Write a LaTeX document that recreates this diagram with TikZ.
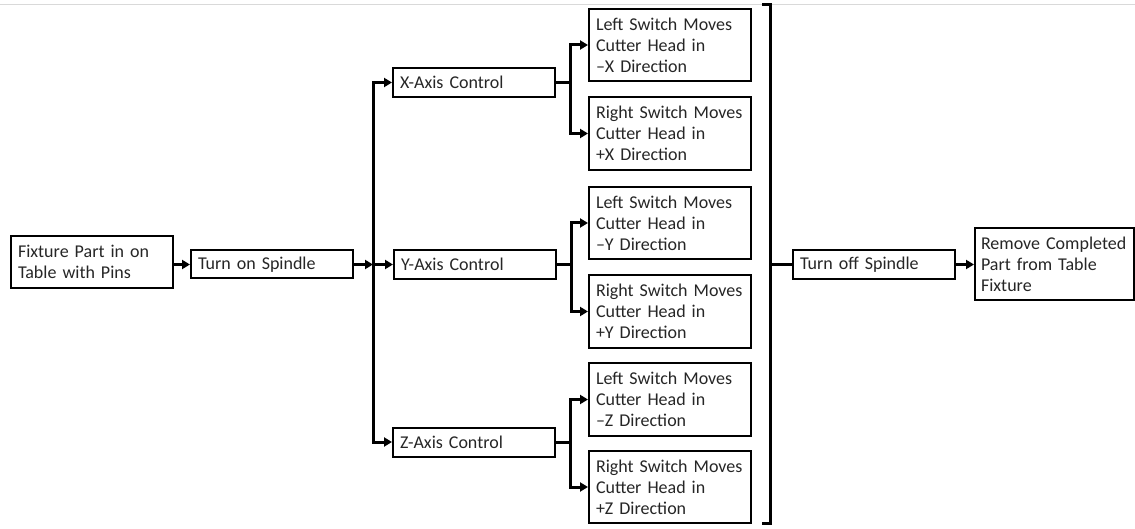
\documentclass[tikz,border=0pt]{standalone}
\usepackage{fontspec}
\setmainfont{Carlito}
\usetikzlibrary{arrows.meta}
\begin{document}
\begin{tikzpicture}[x=1pt,y=-1pt,
  box/.style={draw, line width=2pt, minimum height=#1, inner xsep=7pt, inner ysep=0pt,
    text width=148pt, align=left, font=\fontsize{18}{21}\selectfont, text=black!85},
  conn/.style={line width=3pt, line join=miter},
  arr/.style={conn, -{Triangle[length=8pt,width=9pt]}},
  topline/.style={line width=1.5pt, black!15}]
\useasboundingbox (0,0) rectangle (1135,529);
\fill[white] (0,0) rectangle (1135,529);
\draw[topline] (0,4.5) -- (1135,4.5);
% nodes
\node[box=52pt] (fix) at (92,262) {Fixture Part in on\\Table with Pins};
\node[box=28pt] (ton) at (272,264.5) {Turn on Spindle};
\node[box=29pt] (xa) at (474,82.5) {X-Axis Control};
\node[box=29pt] (ya) at (475,264.5) {Y-Axis Control};
\node[box=29pt] (za) at (474,442) {Z-Axis Control};
\node[box=72pt] (xl) at (670,45) {Left Switch Moves\\Cutter Head in\\–X Direction};
\node[box=73pt] (xr) at (670,133.5) {Right Switch Moves\\Cutter Head in\\+X Direction};
\node[box=72pt] (yl) at (670,223) {Left Switch Moves\\Cutter Head in\\–Y Direction};
\node[box=73pt] (yr) at (670,311.5) {Right Switch Moves\\Cutter Head in\\+Y Direction};
\node[box=73pt] (zl) at (670,399.5) {Left Switch Moves\\Cutter Head in\\–Z Direction};
\node[box=72pt] (zr) at (670,487) {Right Switch Moves\\Cutter Head in\\+Z Direction};
\node[box=29pt] (off) at (874,264.5) {Turn off Spindle};
\node[box=72pt, text width=147pt, inner xsep=6pt] (rem) at (1054.5,264.5) {Remove Completed\\Part from Table\\Fixture};
% bus
\coordinate (j0) at (373,264.5);
\draw[arr] (fix.east |- ton.west) -- (ton.west);
\draw[arr] (ton.east) -- (j0);
\draw[arr] (j0) -- (ya.west);
\draw[arr] (j0) |- (xa.west);
\draw[arr] (j0) |- (za.west);
% branches
\foreach \a/\l/\r in {xa/xl/xr, ya/yl/yr, za/zl/zr}{
  \coordinate (b\a) at ([xshift=14pt]\a.east);
  \draw[conn] (\a.east) -- (b\a);
  \draw[arr] (b\a) |- (\l.west);
  \draw[arr] (b\a) |- (\r.west);
}
% bracket
\coordinate (bt) at (770,5);
\coordinate (bb) at (770,523);
\coordinate (bm) at (770,264.5);
\draw[conn] ([xshift=-8pt]bt) -- (bt) -- (bb) -- ([xshift=-8pt]bb);
\draw[conn] (bm) -- (off.west);
\draw[arr] (off.east) -- (rem.west);
\end{tikzpicture}
\end{document}
